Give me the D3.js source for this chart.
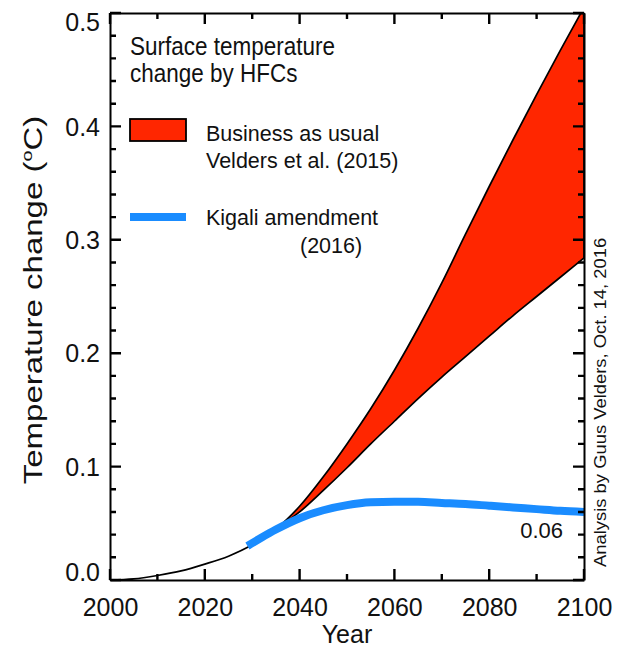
<!DOCTYPE html>
<html>
<head>
<meta charset="utf-8">
<script src="https://cdn.jsdelivr.net/npm/d3@7"></script>
<style>
  body { margin: 0; background: #fff; }
  text { font-family: "Liberation Sans", Arial, Helvetica, sans-serif; fill: #111; }
</style>
</head>
<body>
<script>
// historical HFC warming, shared by both scenarios
var histYears = [2000, 2005, 2010, 2015, 2020, 2025, 2030, 2033];
var histValues = [0.000, 0.001, 0.004, 0.008, 0.014, 0.021, 0.031, 0.039];

// business as usual range (Velders et al. 2015)
var bauYears = [2033, 2035, 2040, 2045, 2050, 2055, 2060, 2065, 2070, 2075, 2080, 2085, 2090, 2095, 2100];
var bauUpper = [0.039, 0.045, 0.065, 0.091, 0.120, 0.151, 0.185, 0.222, 0.262, 0.305, 0.347, 0.388, 0.428, 0.467, 0.505];
var bauLower = [0.039, 0.045, 0.060, 0.079, 0.099, 0.120, 0.140, 0.160, 0.179, 0.197, 0.215, 0.233, 0.250, 0.267, 0.284];

// Kigali amendment (2016)
var kigaliYears = [2029, 2032, 2035, 2040, 2045, 2050, 2055, 2060, 2065, 2070, 2075, 2080, 2085, 2090, 2095, 2100];
var kigaliValues = [0.030, 0.0375, 0.0445, 0.0545, 0.0615, 0.066, 0.0685, 0.069, 0.069, 0.068, 0.067, 0.0655, 0.064, 0.0625, 0.061, 0.060];

var xMajor = [2000, 2020, 2040, 2060, 2080, 2100];
var xMinor = [2010, 2030, 2050, 2070, 2090];
var yMajor = [0.0, 0.1, 0.2, 0.3, 0.4, 0.5];

var W = 627, H = 649;
var margins = {top: 13, right: 43, bottom: 69, left: 110};

var xScale = d3.scaleLinear().domain([2000, 2100]).range([margins.left, W - margins.right]);
var yScale = d3.scaleLinear().domain([0, 0.5]).range([H - margins.bottom, margins.top]);

var yMinor = d3.range(0, 0.5001, 0.02).filter(function (v) {
    return Math.abs(v * 10 - Math.round(v * 10)) > 1e-6;
});

var svg = d3.select("body").append("svg").attr("width", W).attr("height", H);

svg.append("defs").append("clipPath").attr("id", "plotclip")
    .append("rect")
    .attr("x", margins.left).attr("y", margins.top)
    .attr("width", W - margins.left - margins.right)
    .attr("height", H - margins.top - margins.bottom);

var plot = svg.append("g").attr("clip-path", "url(#plotclip)");

var bau = bauYears.map(function (yr, i) { return {x: yr, lo: bauLower[i], hi: bauUpper[i]}; });
var hist = histYears.map(function (yr, i) { return {x: yr, y: histValues[i]}; });
var kig = kigaliYears.map(function (yr, i) { return {x: yr, y: kigaliValues[i]}; });

var area = d3.area()
    .x(function (d) { return xScale(d.x); })
    .y0(function (d) { return yScale(d.lo); })
    .y1(function (d) { return yScale(d.hi); })
    .curve(d3.curveMonotoneX);

plot.append("path").datum(bau)
    .attr("d", area)
    .attr("fill", "#ff2600")
    .attr("stroke", "#000").attr("stroke-width", 1.7);

var line = d3.line()
    .x(function (d) { return xScale(d.x); })
    .y(function (d) { return yScale(d.y); })
    .curve(d3.curveMonotoneX);

plot.append("path").datum(hist)
    .attr("d", line)
    .attr("fill", "none").attr("stroke", "#000").attr("stroke-width", 1.7);

plot.append("path").datum(kig)
    .attr("d", line)
    .attr("fill", "none").attr("stroke", "#1a8cff").attr("stroke-width", 8);

// axes: labels from d3 axes, tick marks drawn inward as paths
var bottomY = H - margins.bottom, topY = margins.top;
var leftX = margins.left, rightX = W - margins.right;

function styleAxis(g, size) {
    g.selectAll("path.domain").attr("stroke", "#000").attr("stroke-width", 2);
    g.selectAll("text").attr("font-size", size).attr("fill", "#111")
        .style("font-family", "'Liberation Sans', Arial, sans-serif");
}

svg.append("g").attr("transform", "translate(0," + bottomY + ")")
    .call(d3.axisBottom(xScale).tickValues(xMajor).tickFormat(d3.format("d"))
        .tickSize(0).tickPadding(18))
    .call(styleAxis, 25);
svg.append("g").attr("transform", "translate(0," + topY + ")")
    .call(d3.axisTop(xScale).tickValues([]).tickSize(0))
    .call(styleAxis, 25);

var yAx = svg.append("g").attr("transform", "translate(" + leftX + ",0)")
    .call(d3.axisLeft(yScale).tickValues(yMajor).tickFormat(d3.format(".1f"))
        .tickSize(0).tickPadding(10))
    .call(styleAxis, 25);
// end labels sit inside the axis span, as in the original
yAx.selectAll(".tick text").attr("dy", function (d) {
    if (d === 0.5) return "0.7em";
    if (d === 0) return "0.02em";
    return "0.35em";
});
svg.append("g").attr("transform", "translate(" + rightX + ",0)")
    .call(d3.axisRight(yScale).tickValues([]).tickSize(0))
    .call(styleAxis, 25);

function xTickPath(vals, len) {
    return vals.map(function (v) {
        var px = xScale(v);
        return "M" + px + "," + bottomY + "V" + (bottomY - len) +
               "M" + px + "," + topY + "V" + (topY + len);
    }).join("");
}
function yTickPath(vals, len) {
    return vals.map(function (v) {
        var py = yScale(v);
        return "M" + leftX + "," + py + "H" + (leftX + len) +
               "M" + rightX + "," + py + "H" + (rightX - len);
    }).join("");
}
svg.append("path")
    .attr("d", xTickPath(xMajor, 11) + xTickPath(xMinor, 6) +
               yTickPath(yMajor, 11) + yTickPath(yMinor, 6))
    .attr("fill", "none").attr("stroke", "#000").attr("stroke-width", 2.4);

// axis titles
svg.append("text")
    .attr("x", (leftX + rightX) / 2).attr("y", 643)
    .attr("text-anchor", "middle").attr("font-size", 25)
    .text("Year");

var ylab = svg.append("text")
    .attr("transform", "translate(42,300) rotate(-90) scale(1.32,1)")
    .attr("text-anchor", "middle").attr("font-size", 25);
ylab.append("tspan").text("Temperature change (");
ylab.append("tspan").attr("font-size", 15).attr("dy", -10).text("o");
ylab.append("tspan").attr("dy", 10).text("C)");

// legend
svg.append("text").attr("transform", "translate(130,55) scale(1,1.15)")
    .attr("font-size", 22.5).text("Surface temperature");
svg.append("text").attr("transform", "translate(130,82) scale(1,1.15)")
    .attr("font-size", 22.5).text("change by HFCs");

svg.append("rect").attr("x", 130).attr("y", 119).attr("width", 56).attr("height", 22)
    .attr("fill", "#ff2600").attr("stroke", "#000").attr("stroke-width", 1.8);
svg.append("text").attr("x", 206).attr("y", 141).attr("font-size", 21.5).text("Business as usual");
svg.append("text").attr("x", 206).attr("y", 168).attr("font-size", 21.5).text("Velders et al. (2015)");

svg.append("line").attr("x1", 130).attr("x2", 186).attr("y1", 217).attr("y2", 217)
    .attr("stroke", "#1a8cff").attr("stroke-width", 8);
svg.append("text").attr("x", 206).attr("y", 225).attr("font-size", 21.5).text("Kigali amendment");
svg.append("text").attr("x", 300).attr("y", 253).attr("font-size", 21.5).text("(2016)");

// end value label
var lastK = kigaliValues[kigaliValues.length - 1];
svg.append("text")
    .attr("x", xScale(2100) - 21).attr("y", yScale(lastK) + 26)
    .attr("text-anchor", "end").attr("font-size", 22)
    .text(d3.format(".2f")(lastK));

// credit
svg.append("text")
    .attr("transform", "translate(606,567) rotate(-90) scale(1.15,1)")
    .attr("font-size", 16)
    .text("Analysis by Guus Velders, Oct. 14, 2016");
</script>
</body>
</html>
